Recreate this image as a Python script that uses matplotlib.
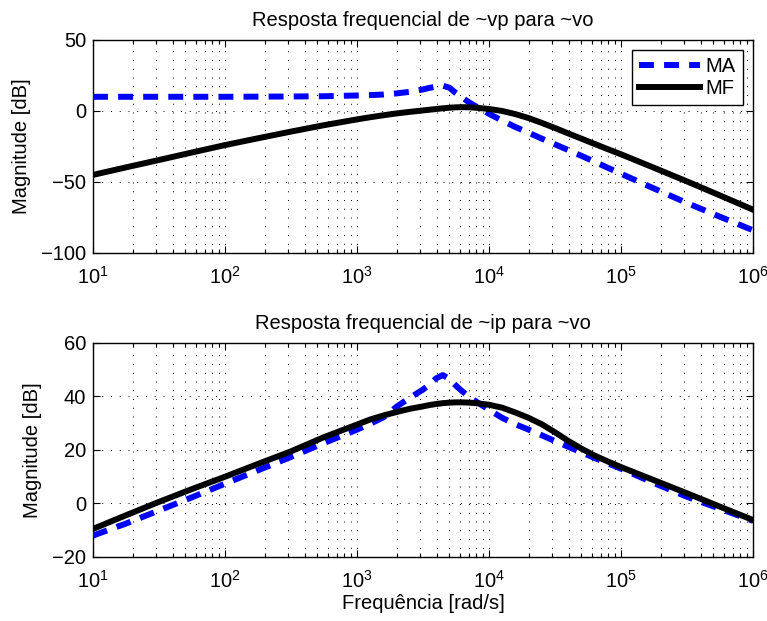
import numpy as np
import matplotlib
matplotlib.use('Agg')
import matplotlib.pyplot as plt
from matplotlib.ticker import LogLocator, NullFormatter

# ---- data ----
log_freq = [1.0, 1.25, 1.5, 1.75, 2.0, 2.25, 2.5, 2.75, 3.0, 3.1, 3.2, 3.3, 3.4,
            3.5, 3.55, 3.6, 3.65, 3.7, 3.75, 3.8, 3.85, 3.9, 4.0, 4.1, 4.2, 4.3,
            4.4, 4.5, 4.6, 4.7, 4.8, 4.9, 5.0, 5.25, 5.5, 5.75, 6.0]

# Resposta de ~vp para ~vo [dB]
vp_ma = [10.0, 10.0, 10.0, 10.0, 10.0, 10.1, 10.2, 10.4, 10.9, 11.2, 11.6, 12.4, 13.5,
         15.2, 16.3, 17.2, 17.8, 16.4, 12.5, 9.2, 6.0, 3.3, -2.0, -6.8, -11.3, -15.3,
         -19.5, -23.5, -27.5, -31.6, -35.8, -40.0, -44.2, -54.6, -64.8, -74.5, -84.0]
vp_mf = [-45.0, -39.7, -34.5, -29.2, -24.0, -19.2, -14.5, -10.0, -5.9, -4.4, -3.0, -1.7, -0.6,
         0.4, 0.9, 1.4, 1.9, 2.3, 2.6, 2.7, 2.6, 2.3, 1.4, 0.0, -2.2, -5.0,
         -8.4, -12.0, -15.8, -19.5, -23.2, -26.9, -30.5, -40.0, -49.6, -59.5, -69.5]

# Resposta de ~ip para ~vo [dB]
ip_ma = [-12.0, -7.5, -2.6, 2.3, 7.4, 12.4, 17.4, 22.6, 27.6, 29.8, 32.2, 36.2, 39.5,
         42.6, 44.5, 46.8, 48.0, 46.5, 44.0, 41.8, 39.9, 38.2, 35.0, 32.0, 29.6, 27.6,
         25.5, 23.3, 21.2, 19.1, 17.0, 15.0, 13.0, 7.6, 2.5, -2.0, -6.5]
ip_mf = [-9.5, -4.4, 0.6, 5.4, 10.0, 14.8, 19.5, 24.8, 29.5, 31.4, 32.9, 34.2, 35.4,
         36.3, 36.8, 37.2, 37.5, 37.7, 37.8, 37.8, 37.7, 37.5, 36.9, 35.8, 34.0, 32.0,
         29.6, 26.6, 23.4, 20.5, 17.9, 15.7, 13.6, 8.7, 3.8, -1.2, -6.2]

titles = ['Resposta frequencial de ~vp para ~vo', 'Resposta frequencial de ~ip para ~vo']
ylims = [(-100, 50), (-20, 60)]
yticks = [[-100, -50, 0, 50], [-20, 0, 20, 40, 60]]
legend_labels = ['MA', 'MF']

freq = 10.0 ** np.array(log_freq)

FS = 14.5
plt.rcParams['font.family'] = ['Liberation Sans', 'DejaVu Sans']
plt.rcParams['mathtext.fontset'] = 'custom'
plt.rcParams['mathtext.rm'] = 'Liberation Sans'
plt.rcParams['mathtext.it'] = 'Liberation Sans:italic'
plt.rcParams['font.size'] = FS

fig = plt.figure(figsize=(7.67, 6.21), dpi=100)
ax1 = fig.add_axes([0.1213, 0.5926, 0.8605, 0.3430])
ax2 = fig.add_axes([0.1213, 0.1031, 0.8605, 0.3446])

LW = 4.3
series = [(vp_ma, vp_mf), (ip_ma, ip_mf)]
for i, ax in enumerate([ax1, ax2]):
    ma, mf = series[i]
    l1, = ax.semilogx(freq, ma, color='#0000ff', lw=LW, label=legend_labels[0], zorder=3)
    l1.set_dashes([2.5, 1.7])
    ax.semilogx(freq, mf, color='black', lw=LW, label=legend_labels[1], zorder=3)
    ax.set_xlim(10, 1e6)
    ax.set_ylim(*ylims[i])
    ax.set_yticks(yticks[i])
    ax.xaxis.set_major_locator(LogLocator(base=10, numticks=10))
    ax.xaxis.set_minor_locator(LogLocator(base=10, subs=np.arange(2, 10), numticks=100))
    ax.xaxis.set_minor_formatter(NullFormatter())
    ax.tick_params(which='both', direction='in', top=True, right=True, width=0.8)
    ax.tick_params(which='major', length=5)
    ax.tick_params(which='minor', length=3)
    ax.tick_params(axis='x', which='major', pad=9)
    ax.tick_params(axis='y', which='major', pad=5)
    ax.grid(True, which='major', axis='both', color='black', lw=0.7, linestyle=(0, (1, 8)))
    ax.grid(True, which='minor', axis='x', color='black', lw=0.7, linestyle=(0, (1, 8)))
    for sp in ax.spines.values():
        sp.set_linewidth(1.0)
    ax.set_title(titles[i], fontsize=FS, pad=10)
    ax.set_ylabel('Magnitude [dB]', labelpad=7)

leg = ax1.legend(loc='upper right', fancybox=False, edgecolor='black', framealpha=1,
                 handlelength=3.0, borderaxespad=0.5, borderpad=0.35, labelspacing=0.15,
                 handletextpad=0.3, fontsize=FS)
leg.get_frame().set_linewidth(1.0)

ax2.set_xlabel('Frequência [rad/s]', labelpad=2)

fig.savefig('out.png', dpi=100)
